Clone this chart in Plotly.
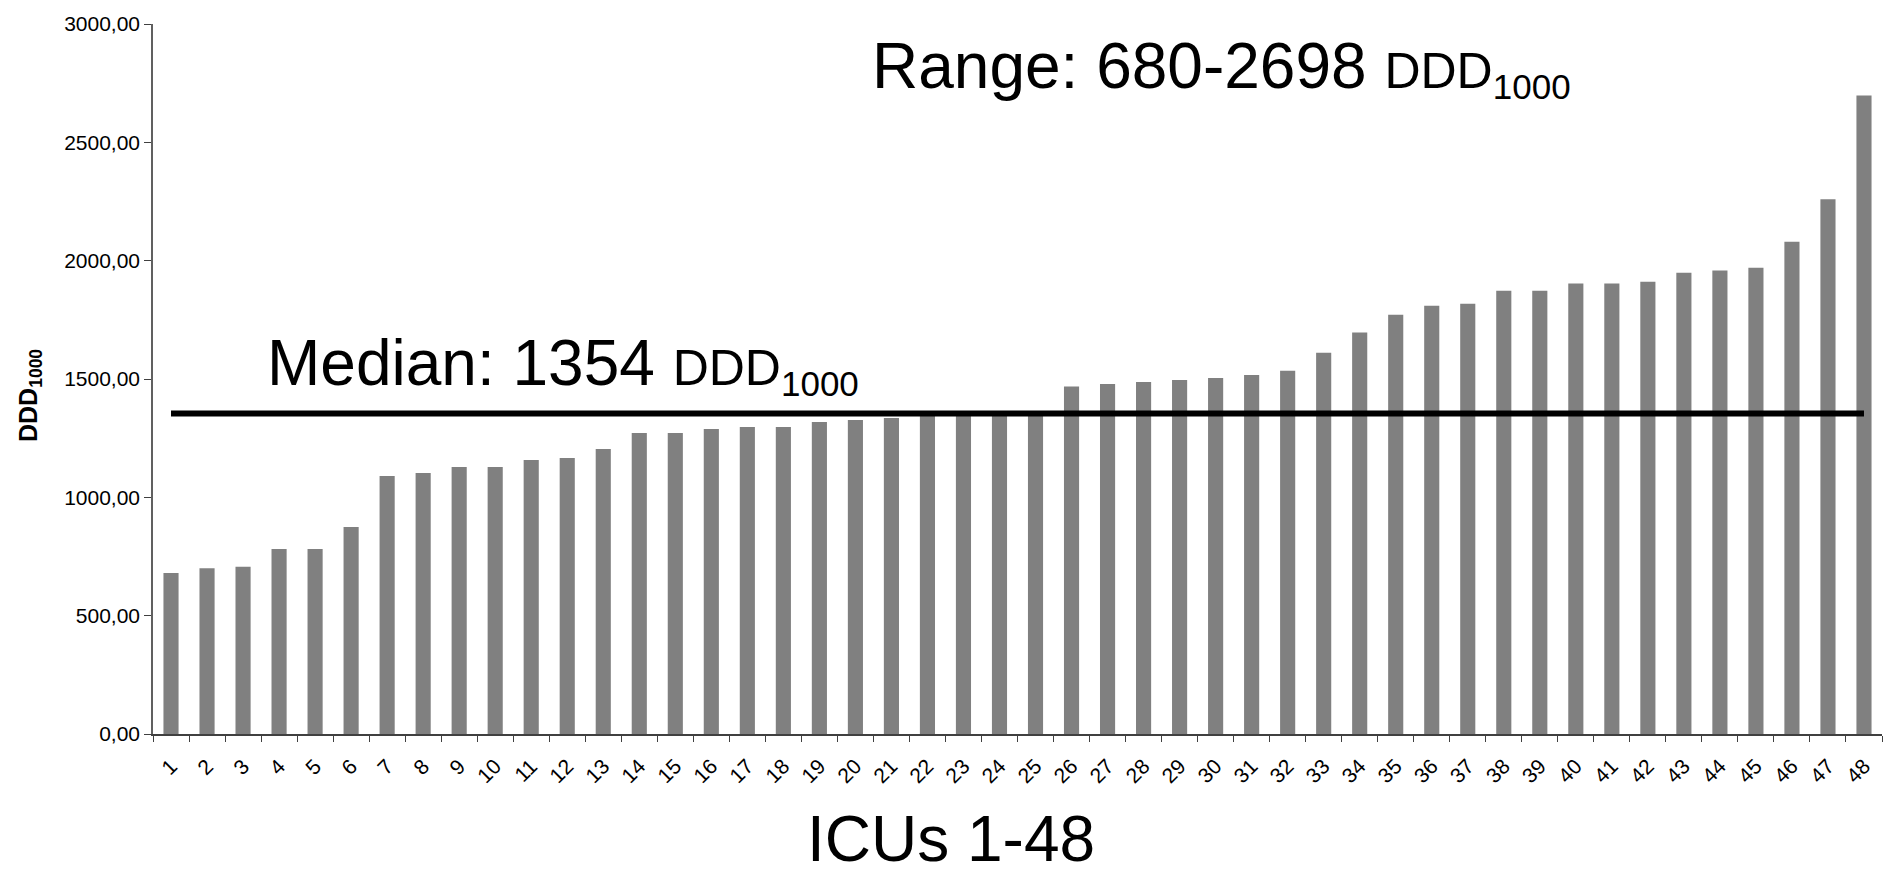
import plotly.graph_objects as go

# ---- data ----
icu_labels = [str(i) for i in range(1, 49)]
ddd_values = [680, 700, 707, 782, 782, 875, 1090, 1103, 1128, 1128,
              1158, 1166, 1204, 1272, 1272, 1289, 1297, 1297, 1318, 1327,
              1335, 1346, 1350, 1352, 1356, 1468, 1479, 1487, 1496, 1504,
              1517, 1535, 1611, 1696, 1772, 1810, 1818, 1873, 1873, 1903,
              1903, 1911, 1949, 1958, 1970, 2080, 2260, 2698]
median_value = 1354
y_tick_vals = [0, 500, 1000, 1500, 2000, 2500, 3000]
y_tick_text = ["0,00", "500,00", "1000,00", "1500,00", "2000,00", "2500,00", "3000,00"]

W, H = 1883, 874
L, R, T, B = 153, 1, 24, 140
pw, ph = W - L - R, H - T - B

def px(x):
    return (x - L) / pw

def py(y):
    return (H - B - y) / ph

FONT = "Liberation Sans, Arial, sans-serif"

fig = go.Figure()
fig.add_trace(go.Bar(x=icu_labels, y=ddd_values, marker=dict(color="#808080", line=dict(width=0)),
                     showlegend=False, hoverinfo="x+y"))
fig.add_trace(go.Scatter(x=[icu_labels[0], icu_labels[-1]], y=[median_value, median_value],
                         mode="lines", line=dict(color="black", width=6), showlegend=False,
                         hoverinfo="skip"))

fig.update_layout(
    width=W, height=H,
    margin=dict(l=L, r=R, t=T, b=B, pad=0),
    paper_bgcolor="white", plot_bgcolor="white",
    bargap=0.58,
    font=dict(family=FONT, color="black"),
    xaxis=dict(type="category", showgrid=False, zeroline=False,
               showline=True, linecolor="#404040", linewidth=1.5,
               ticks="outside", ticklen=6, tickcolor="#404040", tickwidth=1,
               tickson="boundaries", tickangle=-45, ticklabelstandoff=10,
               tickfont=dict(size=21, family=FONT, color="black")),
    yaxis=dict(range=[0, 3000], showgrid=False, zeroline=False,
               showline=True, linecolor="#606060", linewidth=1.5,
               ticks="outside", ticklen=7, tickcolor="#404040", tickwidth=1,
               tickvals=y_tick_vals, ticktext=y_tick_text,
               tickfont=dict(size=21, family=FONT, color="black")),
)

annotations = [
    dict(text="Median: 1354 <span style='font-size:50px'>DDD<sub>1000</sub></span>",
         x=px(265), y=py(405), xanchor="left", yanchor="bottom",
         font=dict(size=64, family=FONT, color="black")),
    dict(text="Range: 680-2698 <span style='font-size:50px'>DDD<sub>1000</sub></span>",
         x=px(870), y=py(108), xanchor="left", yanchor="bottom",
         font=dict(size=64, family=FONT, color="black")),
    dict(text="ICUs 1-48", x=px(951), y=py(877), xanchor="center", yanchor="bottom",
         font=dict(size=64, family=FONT, color="black")),
    dict(text="<b>DDD<sub>1000</sub></b>", x=px(30), y=py(396), xanchor="center", yanchor="middle",
         textangle=-90, font=dict(size=25, family=FONT, color="black")),
]
for a in annotations:
    a.update(xref="paper", yref="paper", showarrow=False)
fig.update_layout(annotations=annotations)

fig.write_html("out.html", config={"displayModeBar": False},
               post_script="document.body.style.margin='0';document.body.style.overflow='hidden';")
